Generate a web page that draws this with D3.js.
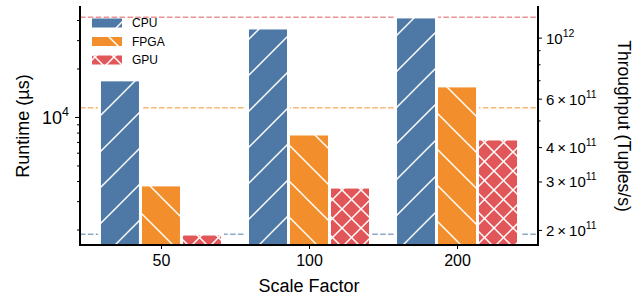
<!DOCTYPE html>
<html>
<head>
<meta charset="utf-8">
<script src="https://cdnjs.cloudflare.com/ajax/libs/d3/7.8.5/d3.min.js"></script>
<style>
  body { margin: 0; background: #fff; }
  svg text { font-family: "Liberation Sans", Arial, sans-serif; fill: #000; }
</style>
</head>
<body>
<svg id="chart"></svg>
<script>
var scale_factors = ["50", "100", "200"];
var devices = ["CPU", "FPGA", "GPU"];
var cpu_runtime = [17000, 35700, 41800];
var fpga_runtime = [3785, 7840, 15590];
var gpu_runtime = [1875, 3670, 7300];
var throughput_lines = [1.186e12, 5.56e11, 1.93e11];
var throughput_line_colors = ["#e15759", "#f28e2b", "#4e79a7"];
var left_ticks = [10000];
var right_ticks = [2e11, 3e11, 4e11, 6e11, 1e12];
var right_tick_labels = [["2\u2009\u00d7\u200910", "11"], ["3\u2009\u00d7\u200910", "11"], ["4\u2009\u00d7\u200910", "11"], ["6\u2009\u00d7\u200910", "11"], ["10", "12"]];

var colors = {CPU: "#4e79a7", FPGA: "#f28e2b", GPU: "#e15759"};
var runtimes = {CPU: cpu_runtime, FPGA: fpga_runtime, GPU: gpu_runtime};

var width = 644, height = 301;
var plot = {left: 80, right: 538, top: 6, bottom: 245};
var barW = 0.277;

var svg = d3.select("#chart")
  .attr("width", width)
  .attr("height", height);

var x = d3.scaleLinear()
  .domain([-0.547, 2.547])
  .range([plot.left, plot.right]);
var yL = d3.scaleLog()
  .domain([1603, 48870])
  .range([plot.bottom, plot.top]);
var yR = d3.scaleLog()
  .domain([1.763e11, 1.303e12])
  .range([plot.bottom, plot.top]);

// hatch patterns
var defs = svg.append("defs");
function hatch(id, color, size, dirs) {
  var p = defs.append("pattern")
    .attr("id", id)
    .attr("patternUnits", "userSpaceOnUse")
    .attr("width", size)
    .attr("height", size);
  p.append("rect").attr("width", size).attr("height", size).attr("fill", color);
  dirs.forEach(function(d) {
    var segs = d == "/"
      ? [[0, size, size, 0], [-2, 2, 2, -2], [size - 2, size + 2, size + 2, size - 2]]
      : [[0, 0, size, size], [-2, size - 2, 2, size + 2], [size - 2, -2, size + 2, 2]];
    segs.forEach(function(s) {
      p.append("line")
        .attr("x1", s[0]).attr("y1", s[1]).attr("x2", s[2]).attr("y2", s[3])
        .attr("stroke", "white")
        .attr("stroke-width", 1.5);
    });
  });
}
hatch("h-CPU", colors.CPU, 36, ["/"]);
hatch("h-FPGA", colors.FPGA, 36, ["\\"]);
hatch("h-GPU", colors.GPU, 19, ["/", "\\"]);

svg.append("clipPath").attr("id", "clip")
  .append("rect")
  .attr("x", plot.left).attr("y", plot.top)
  .attr("width", plot.right - plot.left).attr("height", plot.bottom - plot.top);

var g = svg.append("g").attr("clip-path", "url(#clip)");

g.selectAll(".tline")
  .data(throughput_lines)
  .enter().append("line")
  .attr("x1", plot.left).attr("x2", plot.right)
  .attr("y1", function(d) { return yR(d); })
  .attr("y2", function(d) { return yR(d); })
  .attr("stroke", function(d, i) { return throughput_line_colors[i]; })
  .attr("stroke-opacity", 0.65)
  .attr("stroke-width", 1.6)
  .attr("stroke-dasharray", "5.5,2.4");

devices.forEach(function(dev, di) {
  g.selectAll(".bar-" + dev)
    .data(runtimes[dev])
    .enter().append("rect")
    .attr("x", function(d, i) { return x(i + (di - 1) * barW - barW / 2); })
    .attr("width", x(barW) - x(0))
    .attr("y", function(d) { return yL(d); })
    .attr("height", function(d) { return plot.bottom + 5 - yL(d); })
    .attr("fill", "url(#h-" + dev + ")")
    .attr("stroke", "white")
    .attr("stroke-width", 3);
});

// axes
var xAxis = d3.axisBottom(x)
  .tickValues([0, 1, 2])
  .tickFormat(function(d) { return scale_factors[d]; })
  .tickSize(4).tickPadding(6);
var gx = svg.append("g")
  .attr("transform", "translate(0," + plot.bottom + ")")
  .call(xAxis);
gx.select(".domain").remove();

var yLAxis = d3.axisLeft(yL)
  .tickValues(left_ticks)
  .tickFormat("")
  .tickSize(5);
var gyl = svg.append("g")
  .attr("transform", "translate(" + plot.left + ",0)")
  .call(yLAxis);
gyl.select(".domain").remove();
var yLMinor = d3.axisLeft(yL)
  .tickValues([2000, 3000, 4000, 5000, 6000, 7000, 8000, 9000, 20000, 30000, 40000])
  .tickFormat("")
  .tickSize(3);
svg.append("g")
  .attr("transform", "translate(" + plot.left + ",0)")
  .call(yLMinor)
  .select(".domain").remove();

left_ticks.forEach(function(t) {
  var lt = svg.append("text")
    .attr("x", plot.left - 11)
    .attr("y", yL(t) + 7)
    .attr("text-anchor", "end")
    .attr("font-size", "18px");
  lt.append("tspan").text("10");
  lt.append("tspan").attr("dy", -8).attr("font-size", "12.5px").text(Math.round(Math.log10(t)));
});

var yRAxis = d3.axisRight(yR)
  .tickValues(right_ticks)
  .tickFormat("")
  .tickSize(4);
svg.append("g")
  .attr("transform", "translate(" + plot.right + ",0)")
  .call(yRAxis)
  .select(".domain").remove();
svg.append("g")
  .attr("transform", "translate(" + plot.right + ",0)")
  .call(d3.axisRight(yR).tickValues([5e11, 7e11, 8e11, 9e11]).tickFormat("").tickSize(2.5))
  .select(".domain").remove();

right_ticks.forEach(function(t, i) {
  var rt = svg.append("text")
    .attr("x", plot.right + 8)
    .attr("y", yR(t) + 6)
    .attr("font-size", "15px");
  rt.append("tspan").text(right_tick_labels[i][0]);
  rt.append("tspan").attr("dy", -7).attr("font-size", "10.5px").text(right_tick_labels[i][1]);
});

svg.selectAll(".tick line").attr("stroke", "#000").attr("stroke-width", 1);
gx.selectAll(".tick text")
  .attr("font-family", "Liberation Sans, Arial, sans-serif")
  .attr("font-size", "16px")
  .attr("fill", "#000");

// spines
svg.append("path")
  .attr("d", "M" + plot.left + "," + plot.top + "V" + plot.bottom + "H" + plot.right + "V" + plot.top)
  .attr("fill", "none")
  .attr("stroke", "#000")
  .attr("stroke-width", 2);

// axis labels
svg.append("text")
  .text("Scale Factor")
  .attr("x", x(1))
  .attr("y", 292)
  .attr("text-anchor", "middle")
  .attr("font-size", "18px");
svg.append("text")
  .text("Runtime (\u00b5s)")
  .attr("text-anchor", "middle")
  .attr("font-size", "18px")
  .attr("transform", "translate(29,126) rotate(-90)");
svg.append("text")
  .text("Throughput (Tuples/s)")
  .attr("text-anchor", "middle")
  .attr("font-size", "17.5px")
  .attr("transform", "translate(618,126) rotate(90)");

// legend
var legend = svg.append("g");
devices.forEach(function(dev, i) {
  var ly = 23 + i * 18.5;
  legend.append("rect")
    .attr("x", 92).attr("y", ly - 4.5)
    .attr("width", 30).attr("height", 9)
    .attr("fill", "url(#h-" + dev + ")");
  legend.append("text")
    .text(dev)
    .attr("x", 132)
    .attr("y", ly + 4)
    .attr("font-size", "12px");
});
</script>
</body>
</html>
